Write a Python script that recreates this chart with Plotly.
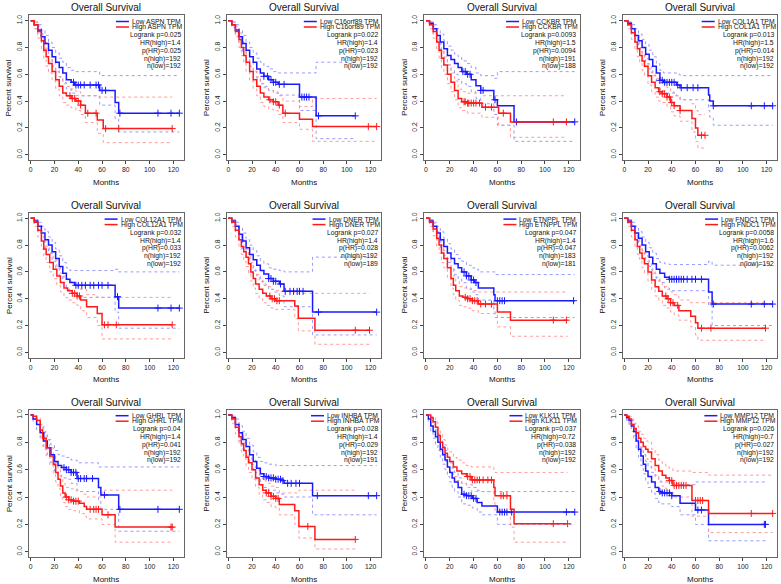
import plotly.graph_objects as go

# Kaplan-Meier overall survival panels
GENES = ["ASPN", "C16orf89", "CCKBR", "COL1A1",
         "COL12A1", "DNER", "ETNPPL", "FNDC1",
         "GHRL", "INHBA", "KLK11", "MMP12"]

LOGRANK_P = ["0.025", "0.022", "0.0093", "0.013", "0.032", "0.027",
             "0.047", "0.0058", "0.04", "0.028", "0.037", "0.026"]
HR_HIGH = ["1.4", "1.4", "1.5", "1.5", "1.4", "1.4",
           "1.4", "1.6", "1.4", "1.4", "0.72", "0.7"]
P_HR = ["0.025", "0.023", "0.0094", "0.014", "0.033", "0.028",
        "0.047", "0.0062", "0.041", "0.029", "0.038", "0.027"]
N_HIGH = [192, 192, 191, 192, 192, 192, 183, 192, 192, 192, 192, 192]
N_LOW = [192, 192, 188, 192, 192, 189, 181, 192, 192, 191, 192, 192]

X_TICKS = [0, 20, 40, 60, 80, 100, 120]
Y_TICKS = [0.0, 0.2, 0.4, 0.6, 0.8, 1.0]

# rows: (months, survival, upper 95% CI, lower 95% CI)
ASPN_LOW = [(0, 1, 1, 1), (3, .97, .99, .94), (6, .93, .97, .89), (9, .88, .93, .83),
            (12, .83, .89, .77), (15, .78, .84, .71), (18, .73, .80, .66), (21, .69, .76, .62),
            (24, .65, .72, .58), (27, .61, .69, .54), (30, .56, .65, .49), (34, .54, .63, .46),
            (37, .52, .62, .44), (58, .48, .59, .37), (71, .39, .59, .27), (74, .31, .59, .17),
            (125, .31, .59, .17)]
ASPN_HIGH = [(0, 1, 1, 1), (3, .97, .99, .94), (6, .92, .96, .87), (9, .85, .90, .79),
             (11, .78, .84, .72), (13, .73, .79, .66), (15, .68, .75, .61), (18, .62, .69, .55),
             (21, .56, .63, .49), (24, .51, .58, .44), (27, .46, .53, .39), (30, .44, .51, .37),
             (34, .42, .49, .35), (38, .40, .47, .33), (42, .37, .44, .30), (46, .31, .44, .24),
             (56, .26, .43, .16), (61, .195, .43, .09), (119, .195, .43, .09)]
ASPN_LOW_CENS = [36, 38, 40, 42, 45, 50, 55, 57, 60, 63, 75, 107, 118, 125]
ASPN_HIGH_CENS = [33, 35, 37, 40, 42, 48, 55, 63, 74, 119]

C16_LOW = [(0, 1, 1, 1), (3, .97, .99, .95), (6, .93, .97, .89), (9, .88, .93, .83),
           (12, .83, .89, .77), (15, .78, .84, .71), (18, .73, .80, .66), (21, .69, .76, .62),
           (24, .64, .72, .57), (27, .61, .69, .53), (30, .585, .66, .51), (34, .56, .64, .48),
           (38, .54, .62, .46), (42, .525, .61, .445), (60, .43, .61, .33), (74, .29, .69, .12),
           (107, .29, .69, .12)]
C16_HIGH = [(0, 1, 1, 1), (3, .97, .99, .95), (6, .92, .96, .88), (9, .86, .91, .80),
            (11, .80, .86, .74), (13, .74, .80, .68), (15, .69, .75, .62), (18, .62, .69, .55),
            (21, .56, .63, .49), (24, .51, .58, .44), (27, .46, .53, .39), (30, .43, .50, .36),
            (34, .41, .48, .34), (38, .395, .47, .33), (42, .37, .44, .30), (46, .31, .40, .24),
            (60, .265, .36, .19), (71, .21, .42, .10), (125, .21, .42, .10)]
C16_LOW_CENS = [30, 33, 36, 38, 40, 43, 47, 62, 64, 66, 68, 76, 107]
C16_HIGH_CENS = [35, 38, 40, 43, 48, 118, 125]

CCKBR_LOW = [(0, 1, 1, 1), (3, .98, .99, .96), (6, .94, .97, .90), (9, .89, .94, .84),
             (12, .84, .90, .78), (15, .79, .85, .72), (18, .74, .81, .67), (21, .71, .78, .63),
             (24, .68, .75, .60), (27, .65, .73, .56), (30, .62, .70, .53), (34, .60, .68, .51),
             (38, .56, .65, .47), (42, .515, .61, .42), (46, .48, .59, .38), (57, .41, .57, .30),
             (60, .365, .62, .22), (74, .245, .62, .10), (125, .245, .62, .10)]
CCKBR_HIGH = [(0, 1, 1, 1), (3, .97, .99, .94), (6, .92, .96, .87), (9, .84, .89, .78),
              (11, .78, .84, .72), (13, .72, .78, .65), (15, .67, .73, .60), (18, .60, .67, .53),
              (21, .54, .61, .47), (24, .48, .55, .41), (27, .42, .49, .35), (30, .395, .47, .33),
              (35, .385, .46, .31), (47, .355, .44, .28), (61, .31, .44, .22), (71, .245, .44, .13),
              (118, .245, .44, .13)]
CCKBR_LOW_CENS = [31, 33, 35, 37, 46, 48, 58, 76, 125]
CCKBR_HIGH_CENS = [32, 33, 35, 36, 38, 40, 42, 45, 50, 55, 65, 107, 118]

COL1A1_LOW = [(0, 1, 1, 1), (3, .98, .99, .96), (6, .94, .97, .90), (9, .89, .94, .84),
              (12, .85, .90, .79), (15, .80, .86, .74), (18, .75, .82, .68), (21, .71, .78, .64),
              (24, .66, .73, .59), (27, .61, .68, .54), (30, .555, .63, .48), (33, .54, .61, .46),
              (44, .52, .60, .44), (47, .50, .59, .41), (71, .445, .59, .33), (72, .40, .59, .28),
              (75, .365, .59, .22), (125, .365, .59, .22)]
COL1A1_HIGH = [(0, 1, 1, 1), (3, .97, .99, .94), (6, .91, .95, .86), (9, .84, .89, .78),
               (11, .79, .85, .73), (13, .74, .80, .68), (15, .70, .76, .63), (17, .66, .72, .59),
               (20, .59, .66, .52), (23, .54, .61, .47), (26, .50, .57, .43), (29, .47, .54, .40),
               (32, .455, .53, .39), (36, .43, .50, .36), (39, .39, .47, .32), (42, .365, .44, .29),
               (47, .33, .41, .25), (57, .27, .38, .17), (60, .20, .33, .10), (62, .145, .30, .05),
               (68, .145, .30, .05)]
COL1A1_LOW_CENS = [30, 32, 34, 36, 38, 40, 42, 45, 48, 53, 58, 62, 75, 107, 118, 125]
COL1A1_HIGH_CENS = [30, 32, 34, 36, 38, 40, 42, 47, 65, 68]

COL12A1_LOW = [(0, 1, 1, 1), (3, .98, .99, .96), (6, .94, .97, .90), (9, .89, .94, .84),
               (12, .84, .90, .78), (15, .80, .86, .74), (18, .75, .82, .68), (21, .70, .77, .63),
               (24, .64, .72, .57), (27, .59, .67, .52), (30, .545, .63, .47), (33, .52, .61, .44),
               (37, .50, .61, .41), (71, .415, .62, .30), (74, .33, .60, .18), (125, .33, .60, .18)]
COL12A1_HIGH = [(0, 1, 1, 1), (3, .97, .99, .94), (6, .91, .95, .86), (9, .83, .88, .77),
                (11, .77, .83, .71), (13, .73, .79, .67), (16, .67, .74, .60), (19, .62, .69, .55),
                (22, .57, .64, .50), (25, .52, .59, .45), (28, .48, .55, .41), (31, .46, .53, .39),
                (35, .44, .51, .37), (39, .42, .49, .35), (42, .39, .47, .31), (47, .34, .43, .26),
                (56, .29, .41, .20), (60, .205, .41, .10), (119, .205, .41, .10)]
COL12A1_LOW_CENS = [38, 40, 43, 46, 50, 53, 57, 60, 65, 73, 107, 118, 125]
COL12A1_HIGH_CENS = [35, 37, 39, 41, 62, 65, 72, 119]

DNER_LOW = [(0, 1, 1, 1), (3, .98, .99, .96), (6, .94, .97, .90), (9, .88, .93, .83),
            (12, .83, .89, .77), (15, .78, .84, .71), (18, .73, .80, .66), (21, .69, .76, .61),
            (24, .65, .72, .57), (27, .61, .68, .53), (30, .585, .66, .50), (34, .55, .63, .47),
            (38, .53, .62, .45), (43, .51, .61, .42), (47, .455, .60, .34), (71, .30, .71, .13),
            (125, .30, .71, .13)]
DNER_HIGH = [(0, 1, 1, 1), (3, .97, .99, .94), (6, .91, .95, .86), (9, .84, .89, .78),
             (11, .79, .85, .73), (13, .75, .81, .68), (15, .71, .77, .64), (17, .66, .72, .59),
             (19, .60, .67, .53), (21, .55, .62, .48), (23, .51, .58, .44), (26, .47, .54, .40),
             (29, .44, .51, .37), (32, .42, .49, .35), (36, .40, .47, .33), (40, .385, .46, .32),
             (56, .345, .44, .25), (59, .255, .44, .16), (73, .165, .44, .06), (119, .165, .44, .06)]
DNER_LOW_CENS = [34, 36, 38, 40, 44, 48, 52, 55, 58, 60, 63, 76, 125]
DNER_HIGH_CENS = [35, 37, 39, 41, 43, 107, 119]

ETNPPL_LOW = [(0, 1, 1, 1), (3, .98, .99, .96), (6, .94, .97, .90), (9, .89, .94, .84),
              (12, .84, .90, .78), (15, .79, .85, .72), (18, .74, .81, .67), (21, .70, .77, .62),
              (24, .66, .73, .58), (27, .63, .70, .55), (30, .60, .68, .52), (34, .57, .65, .48),
              (38, .54, .63, .45), (41, .52, .62, .43), (44, .48, .60, .39), (57, .43, .60, .32),
              (58, .385, .58, .26), (125, .385, .58, .26)]
ETNPPL_HIGH = [(0, 1, 1, 1), (3, .97, .99, .94), (6, .92, .96, .87), (9, .85, .90, .79),
               (11, .80, .86, .74), (13, .74, .80, .67), (15, .70, .76, .63), (18, .63, .70, .56),
               (21, .55, .62, .48), (23, .50, .57, .43), (25, .46, .53, .39), (28, .42, .49, .35),
               (31, .41, .48, .34), (35, .40, .47, .33), (39, .385, .46, .31), (44, .36, .45, .29),
               (60, .30, .45, .19), (71, .24, .45, .12), (119, .24, .45, .12)]
ETNPPL_LOW_CENS = [32, 34, 36, 38, 40, 42, 60, 62, 64, 66, 124]
ETNPPL_HIGH_CENS = [33, 35, 37, 39, 41, 43, 46, 50, 55, 107, 118]

FNDC1_LOW = [(0, 1, 1, 1), (3, .98, .99, .96), (6, .94, .97, .90), (9, .89, .94, .84),
             (12, .85, .90, .79), (15, .80, .86, .74), (18, .75, .82, .69), (21, .71, .78, .64),
             (24, .66, .74, .59), (27, .62, .70, .55), (30, .59, .67, .52), (34, .56, .66, .48),
             (38, .545, .655, .46), (71, .45, .68, .35), (74, .36, .65, .20), (125, .36, .65, .20)]
FNDC1_HIGH = [(0, 1, 1, 1), (3, .97, .99, .94), (6, .91, .95, .86), (9, .84, .89, .78),
              (11, .79, .85, .73), (13, .74, .80, .68), (15, .70, .76, .63), (17, .66, .72, .59),
              (20, .60, .67, .53), (23, .54, .61, .47), (26, .49, .56, .42), (29, .455, .53, .39),
              (32, .42, .49, .35), (36, .40, .47, .33), (39, .37, .45, .30), (42, .35, .43, .28),
              (46, .31, .39, .24), (56, .27, .37, .19), (60, .22, .37, .13), (62, .18, .37, .09),
              (119, .18, .37, .09)]
FNDC1_LOW_CENS = [38, 40, 42, 44, 46, 48, 50, 53, 57, 60, 65, 75, 107, 118, 125]
FNDC1_HIGH_CENS = [35, 37, 39, 41, 45, 65, 73, 119]

GHRL_LOW = [(0, 1, 1, 1), (2, .97, .99, .95), (5, .93, .96, .89), (8, .87, .92, .82),
            (11, .81, .87, .75), (14, .76, .82, .70), (17, .71, .78, .65), (20, .66, .74, .59),
            (23, .63, .71, .56), (26, .615, .70, .54), (30, .60, .69, .53), (34, .58, .67, .50),
            (39, .535, .65, .44), (57, .47, .62, .38), (59, .415, .62, .31), (74, .31, .62, .15),
            (125, .31, .62, .15)]
GHRL_HIGH = [(0, 1, 1, 1), (2, .99, 1.0, .97), (5, .96, .98, .93), (8, .89, .93, .84),
             (10, .83, .88, .77), (13, .76, .82, .70), (16, .70, .76, .63), (19, .64, .71, .57),
             (21, .58, .65, .51), (23, .53, .60, .46), (25, .48, .55, .41), (27, .43, .50, .36),
             (29, .40, .47, .33), (32, .38, .46, .31), (36, .37, .45, .30), (41, .355, .44, .28),
             (45, .33, .42, .26), (47, .31, .40, .24), (60, .27, .45, .20), (71, .18, .45, .07),
             (119, .18, .45, .07)]
GHRL_LOW_CENS = [28, 30, 32, 34, 36, 38, 40, 42, 45, 47, 52, 62, 75, 107, 125]
GHRL_HIGH_CENS = [30, 32, 34, 36, 38, 40, 50, 53, 55, 57, 65, 118, 119]

INHBA_LOW = [(0, 1, 1, 1), (3, .98, .99, .96), (6, .93, .97, .89), (9, .87, .92, .81),
             (12, .82, .88, .75), (15, .77, .83, .70), (18, .71, .78, .64), (21, .66, .73, .58),
             (24, .61, .69, .53), (27, .57, .66, .49), (30, .55, .65, .47), (34, .54, .64, .45),
             (40, .53, .63, .43), (45, .52, .63, .42), (47, .50, .63, .40), (71, .41, .63, .27),
             (125, .41, .63, .27)]
INHBA_HIGH = [(0, 1, 1, 1), (3, .97, .99, .94), (6, .91, .95, .86), (9, .84, .89, .78),
              (11, .79, .85, .73), (13, .74, .80, .68), (15, .69, .75, .62), (17, .65, .71, .58),
              (20, .60, .67, .53), (23, .54, .61, .47), (26, .49, .56, .42), (29, .45, .52, .38),
              (32, .43, .50, .36), (36, .405, .48, .33), (40, .39, .47, .32), (43, .345, .43, .27),
              (56, .30, .43, .20), (59.5, .185, .45, .10), (73, .09, .45, .02), (107, .09, .45, .02)]
INHBA_LOW_CENS = [30, 32, 34, 36, 38, 40, 42, 44, 46, 50, 53, 57, 60, 75, 118, 125]
INHBA_HIGH_CENS = [32, 34, 36, 38, 40, 42, 67, 107]

KLK11_LOW = [(0, 1, 1, 1), (2, .97, .99, .95), (4, .92, .96, .88), (6, .88, .93, .83),
             (8, .84, .89, .78), (10, .80, .86, .74), (12, .75, .81, .69), (14, .71, .77, .64),
             (16, .67, .74, .60), (18, .62, .69, .55), (20, .58, .65, .51), (22, .54, .61, .47),
             (24, .51, .58, .44), (27, .47, .54, .40), (30, .42, .50, .35), (34, .41, .49, .34),
             (39, .39, .47, .32), (43, .36, .45, .29), (47, .335, .44, .27), (60, .29, .44, .20),
             (125, .29, .44, .20)]
KLK11_HIGH = [(0, 1, 1, 1), (2, 1.0, 1.0, .99), (4, .98, .99, .96), (6, .95, .98, .91),
              (8, .91, .95, .86), (10, .85, .90, .80), (12, .80, .86, .74), (14, .76, .82, .70),
              (16, .72, .78, .66), (18, .69, .75, .62), (20, .66, .73, .59), (23, .62, .69, .55),
              (26, .59, .67, .52), (30, .57, .65, .50), (34, .55, .63, .47), (38, .525, .62, .44),
              (57, .47, .60, .36), (58, .41, .58, .30), (71, .31, .58, .18), (74, .205, .58, .07),
              (119, .205, .58, .07)]
KLK11_LOW_CENS = [32, 34, 36, 38, 40, 42, 62, 64, 66, 68, 72, 118, 125]
KLK11_HIGH_CENS = [35, 37, 39, 41, 43, 45, 48, 52, 55, 63, 65, 68, 107, 119]

MMP12_LOW = [(0, 1, 1, 1), (2, .98, .99, .96), (4, .96, .98, .93), (6, .92, .96, .88),
             (8, .88, .93, .83), (10, .81, .87, .75), (12, .75, .81, .69), (14, .70, .76, .63),
             (16, .64, .71, .57), (18, .59, .66, .52), (20, .55, .62, .47), (23, .51, .58, .43),
             (26, .47, .55, .39), (29, .44, .52, .36), (31, .43, .51, .35), (40, .41, .50, .33),
             (47, .355, .49, .27), (60, .305, .51, .20), (71, .20, .51, .08), (119, .20, .51, .08)]
MMP12_HIGH = [(0, 1, 1, 1), (2, .99, 1.0, .97), (4, .97, .99, .94), (6, .93, .97, .89),
              (8, .90, .94, .85), (10, .87, .92, .82), (12, .83, .88, .77), (14, .80, .86, .74),
              (16, .77, .83, .71), (18, .75, .81, .68), (20, .73, .80, .66), (23, .68, .75, .61),
              (26, .63, .71, .56), (29, .59, .67, .51), (32, .56, .64, .48), (35, .54, .62, .46),
              (38, .52, .61, .44), (41, .485, .59, .40), (57, .375, .58, .26), (71, .28, .56, .14),
              (125, .28, .56, .14)]
MMP12_LOW_CENS = [30, 32, 34, 36, 38, 40, 62, 65, 118, 119]
MMP12_HIGH_CENS = [38, 40, 42, 44, 46, 48, 50, 52, 60, 62, 64, 66, 107, 125]

LOW_CURVES = [ASPN_LOW, C16_LOW, CCKBR_LOW, COL1A1_LOW, COL12A1_LOW, DNER_LOW,
              ETNPPL_LOW, FNDC1_LOW, GHRL_LOW, INHBA_LOW, KLK11_LOW, MMP12_LOW]
HIGH_CURVES = [ASPN_HIGH, C16_HIGH, CCKBR_HIGH, COL1A1_HIGH, COL12A1_HIGH, DNER_HIGH,
               ETNPPL_HIGH, FNDC1_HIGH, GHRL_HIGH, INHBA_HIGH, KLK11_HIGH, MMP12_HIGH]
LOW_CENS = [ASPN_LOW_CENS, C16_LOW_CENS, CCKBR_LOW_CENS, COL1A1_LOW_CENS, COL12A1_LOW_CENS,
            DNER_LOW_CENS, ETNPPL_LOW_CENS, FNDC1_LOW_CENS, GHRL_LOW_CENS, INHBA_LOW_CENS,
            KLK11_LOW_CENS, MMP12_LOW_CENS]
HIGH_CENS = [ASPN_HIGH_CENS, C16_HIGH_CENS, CCKBR_HIGH_CENS, COL1A1_HIGH_CENS, COL12A1_HIGH_CENS,
             DNER_HIGH_CENS, ETNPPL_HIGH_CENS, FNDC1_HIGH_CENS, GHRL_HIGH_CENS, INHBA_HIGH_CENS,
             KLK11_HIGH_CENS, MMP12_HIGH_CENS]

W, H = 781, 584
FONT = "Liberation Sans, Arial, sans-serif"
BLUE, RED = "#1a1aff", "#ff1a1a"
BLUE_CI, RED_CI = "#9090ff", "#ff9090"

# pixel boxes of the plot areas
COL_PX = [(28.9, 184.1), (226.5, 381.4), (424.2, 579.5), (622.5, 777.4)]
ROW_PX = [(15.3, 160.1), (212.9, 357.7), (409.5, 557.2)]

# Arial advance widths (em) for legend layout
AW = {' ': .278, 'A': .667, 'B': .667, 'C': .722, 'D': .722, 'E': .667, 'F': .611,
      'G': .778, 'H': .722, 'I': .278, 'K': .667, 'L': .556, 'M': .833, 'N': .722,
      'O': .778, 'P': .667, 'R': .722, 'S': .667, 'T': .611, 'a': .556, 'f': .278,
      'g': .556, 'h': .556, 'i': .222, 'o': .556, 'r': .333, 'w': .722}
SMALL = 6.8


def px(x):
    return x / W


def py(y):
    return 1 - y / H


def text_width(s, size=SMALL):
    return sum(AW.get(ch, .556) for ch in s) * size


def surv_at(rows, t):
    s = rows[0][1]
    for r in rows:
        if r[0] <= t:
            s = r[1]
    return s


fig = go.Figure()
annotations = []
shapes = []

for i, gene in enumerate(GENES):
    r, c = divmod(i, 4)
    n = "" if i == 0 else str(i + 1)
    xa, ya = "x" + n, "y" + n
    left, right = COL_PX[c]
    top, bottom = ROW_PX[r]

    for rows, ci_col in ((LOW_CURVES[i], BLUE_CI), (HIGH_CURVES[i], RED_CI)):
        t = [row[0] for row in rows]
        for k in (2, 3):
            fig.add_scatter(x=t, y=[row[k] for row in rows], xaxis=xa, yaxis=ya,
                            mode="lines", line=dict(color=ci_col, width=0.9, dash="dot", shape="hv"),
                            hoverinfo="skip", showlegend=False)
    for rows, cens, col in ((LOW_CURVES[i], LOW_CENS[i], BLUE),
                            (HIGH_CURVES[i], HIGH_CENS[i], RED)):
        fig.add_scatter(x=[row[0] for row in rows], y=[row[1] for row in rows], xaxis=xa, yaxis=ya,
                        mode="lines", line=dict(color=col, width=1.5, shape="hv"),
                        showlegend=False)
        fig.add_scatter(x=cens, y=[surv_at(rows, tc) for tc in cens], xaxis=xa, yaxis=ya,
                        mode="markers",
                        marker=dict(symbol="cross-thin-open", size=5, color=col,
                                    line=dict(color=col, width=1)),
                        showlegend=False)

    fig.layout["xaxis" + n] = dict(
        domain=[px(left), px(right)], anchor=ya, range=[-1.5, 129],
        tickvals=X_TICKS, ticks="outside", ticklen=3, tickcolor="#444",
        tickfont=dict(size=6.8, color="#222", family=FONT),
        showline=True, mirror=True, linecolor="#666", linewidth=1,
        showgrid=False, zeroline=False)
    fig.layout["yaxis" + n] = dict(
        domain=[py(bottom), py(top)], anchor=xa, range=[-0.04, 1.04],
        tickvals=Y_TICKS, tickformat=".1f", ticks="outside", ticklen=3, tickcolor="#444",
        tickangle=-90, tickfont=dict(size=6.8, color="#222", family=FONT),
        showline=True, mirror=True, linecolor="#666", linewidth=1,
        showgrid=False, zeroline=False)

    cx = (left + right) / 2
    annotations.append(dict(text="Overall Survival", x=px(cx), y=py(top - 7.5),
                            xref="paper", yref="paper", showarrow=False,
                            xanchor="center", yanchor="middle",
                            font=dict(size=10, color="#111", family=FONT)))
    annotations.append(dict(text="Months", x=px(cx), y=py(bottom + 22),
                            xref="paper", yref="paper", showarrow=False,
                            xanchor="center", yanchor="middle",
                            font=dict(size=8, color="#111", family=FONT)))
    annotations.append(dict(text="Percent survival", x=px(left - 20), y=py((top + bottom) / 2),
                            xref="paper", yref="paper", showarrow=False, textangle=-90,
                            xanchor="center", yanchor="middle",
                            font=dict(size=8, color="#111", family=FONT)))

    # legend block in the top-right corner
    labels = ["Low %s TPM" % gene, "High %s TPM" % gene]
    tx = right - 2.5 - max(text_width(s) for s in labels)
    for lab, col, dy in zip(labels, (BLUE, RED), (6.2, 11.7)):
        yy = py(top + dy)
        shapes.append(dict(type="line", xref="paper", yref="paper",
                           x0=px(tx - 15), x1=px(tx - 2), y0=yy, y1=yy,
                           line=dict(color=col, width=1.5)))
        annotations.append(dict(text=lab, x=px(tx), y=yy, xref="paper", yref="paper",
                                showarrow=False, xanchor="left", yanchor="middle", borderpad=0,
                                font=dict(size=SMALL, color="#111", family=FONT)))
    stats = ["Logrank p=" + LOGRANK_P[i], "HR(high)=" + HR_HIGH[i], "p(HR)=" + P_HR[i],
             "n(high)=%d" % N_HIGH[i], "n(low)=%d" % N_LOW[i]]
    for s, dy in zip(stats, (19.8, 27.6, 35.4, 43.2, 50.8)):
        annotations.append(dict(text=s, x=px(right - 2.5), y=py(top + dy),
                                xref="paper", yref="paper", showarrow=False,
                                xanchor="right", yanchor="middle", borderpad=0,
                                font=dict(size=SMALL, color="#111", family=FONT)))

fig.update_layout(width=W, height=H, margin=dict(l=0, r=0, t=0, b=0),
                  paper_bgcolor="white", plot_bgcolor="white",
                  annotations=annotations, shapes=shapes, showlegend=False,
                  font=dict(family=FONT))

# the page body has a default 8px margin; drop it so the figure fills the window
fig.write_html("out.html", config={"displayModeBar": False},
               post_script="document.body.style.margin='0';document.body.style.overflow='hidden';")
